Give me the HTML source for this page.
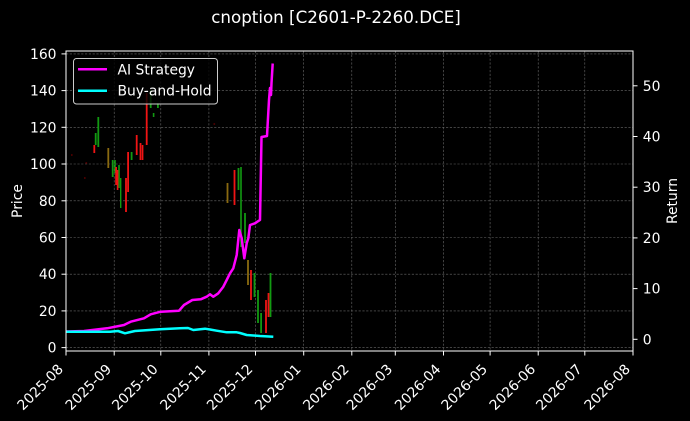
<!DOCTYPE html>
<html><head><meta charset="utf-8"><style>
html,body{margin:0;padding:0;background:#000;}
svg{display:block;font-family:"DejaVu Sans","Liberation Sans",sans-serif;}
</style></head><body>
<svg width="690" height="421" viewBox="0 0 690 421" xmlns="http://www.w3.org/2000/svg">
<rect x="0" y="0" width="690" height="421" fill="#000"/>
<text x="336" y="23" fill="#fff" font-size="16.7" text-anchor="middle">cnoption [C2601-P-2260.DCE]</text>
<!-- grid -->
<g stroke="#6a6a6a" stroke-width="0.6" stroke-dasharray="2.2,1.6" fill="none">
<line x1="114.2" y1="51" x2="114.2" y2="351"/><line x1="160.8" y1="51" x2="160.8" y2="351"/>
<line x1="208.9" y1="51" x2="208.9" y2="351"/><line x1="255.5" y1="51" x2="255.5" y2="351"/>
<line x1="303.7" y1="51" x2="303.7" y2="351"/><line x1="351.8" y1="51" x2="351.8" y2="351"/>
<line x1="395.3" y1="51" x2="395.3" y2="351"/><line x1="443.5" y1="51" x2="443.5" y2="351"/>
<line x1="490.1" y1="51" x2="490.1" y2="351"/><line x1="538.2" y1="51" x2="538.2" y2="351"/>
<line x1="584.8" y1="51" x2="584.8" y2="351"/>
<line x1="66" y1="347.6" x2="633" y2="347.6"/><line x1="66" y1="310.9" x2="633" y2="310.9"/>
<line x1="66" y1="274.2" x2="633" y2="274.2"/><line x1="66" y1="237.5" x2="633" y2="237.5"/>
<line x1="66" y1="200.8" x2="633" y2="200.8"/><line x1="66" y1="164.0" x2="633" y2="164.0"/>
<line x1="66" y1="127.3" x2="633" y2="127.3"/><line x1="66" y1="90.6" x2="633" y2="90.6"/>
<line x1="66" y1="53.9" x2="633" y2="53.9"/>
</g>
<!-- faint dots -->
<g fill="#c00" opacity="0.35">
<rect x="71" y="154" width="1.6" height="2"/><rect x="85.5" y="162" width="1.6" height="2"/>
<rect x="84" y="177" width="1.6" height="2"/><rect x="213.5" y="123" width="1.6" height="2"/>
</g>
<!-- candles green -->
<g fill="#129a12">
<rect x="94.8" y="133" width="1.8" height="12"/><rect x="97.4" y="117" width="1.8" height="30"/>
<rect x="111.8" y="160" width="1.8" height="17"/><rect x="114.2" y="160" width="1.6" height="13"/>
<rect x="118.2" y="165" width="1.6" height="23"/><rect x="120" y="178" width="1.4" height="30"/>
<rect x="130.7" y="152" width="1.8" height="8"/><rect x="149.8" y="90" width="1.8" height="18"/>
<rect x="152.8" y="113" width="1.6" height="4"/><rect x="157" y="103" width="1.8" height="5"/>
<rect x="237.6" y="168" width="1.8" height="22"/><rect x="240.2" y="167" width="1.6" height="80"/>
<rect x="244.1" y="213" width="1.8" height="30"/><rect x="253.6" y="273" width="1.8" height="24"/>
<rect x="257.1" y="290" width="1.8" height="33"/><rect x="260.2" y="313" width="1.8" height="20"/>
<rect x="269.6" y="273" width="1.8" height="44"/>
</g>
<!-- candles red -->
<g fill="#f01414">
<rect x="93.4" y="145" width="1.8" height="8"/><rect x="115.2" y="167" width="1.8" height="18"/>
<rect x="116.8" y="170" width="1.6" height="20"/><rect x="125.1" y="178" width="1.8" height="34"/>
<rect x="127.2" y="152" width="1.8" height="40"/><rect x="135.8" y="135" width="1.8" height="20"/>
<rect x="139.6" y="143" width="1.8" height="17"/><rect x="141.8" y="145" width="1.6" height="15"/>
<rect x="145.8" y="93" width="1.8" height="52"/>
<rect x="233.6" y="170" width="1.8" height="35"/><rect x="250.1" y="270" width="1.8" height="30"/>
<rect x="265.1" y="300" width="1.8" height="33"/><rect x="267.6" y="293" width="1.8" height="24"/>
</g>
<!-- olive -->
<g fill="#8a6a10">
<rect x="107.4" y="148" width="1.8" height="20"/><rect x="226.6" y="183" width="1.8" height="20"/>
<rect x="247.1" y="260" width="1.8" height="25"/>
</g>
<!-- lines -->
<polyline fill="none" stroke="#ff00ff" stroke-width="2.5" stroke-linejoin="round" points="66,331.5 84,331 107,328.3 124,325 130.7,321.7 144,318.3 150.7,314.3 160.7,311.7 179,310.7 184,305 192.3,300 200.7,299.3 206.7,296.7 210,294.3 213.3,296.7 218.3,293.3 223.3,286.7 226.7,280 230,273.3 233.3,268.3 236.7,255 239.3,230 241.7,238.3 244.3,258.3 246.7,243.3 248.3,238.3 250,225 255,223.3 257.3,221.7 260,220 261.5,137 267,136 269,100 270,88 271,95 271.5,83 272.7,63.5"/>
<polyline fill="none" stroke="#00ffff" stroke-width="2.5" stroke-linejoin="round" points="66,331.7 110,331.7 118,331 125,333.3 135,331 160,329.3 180,328.3 188,328 193.3,330 205,328.7 210,329.5 216.7,330.7 226.7,332.3 236.7,332.3 240,333 246.7,335 260,336 273.3,336.7"/>
<!-- spines -->
<rect x="66" y="51" width="567" height="300" fill="none" stroke="#fff" stroke-width="1"/>
<!-- ticks -->
<g stroke="#fff" stroke-width="1">
<line x1="61.5" y1="347.6" x2="66" y2="347.6"/><line x1="61.5" y1="310.9" x2="66" y2="310.9"/>
<line x1="61.5" y1="274.2" x2="66" y2="274.2"/><line x1="61.5" y1="237.5" x2="66" y2="237.5"/>
<line x1="61.5" y1="200.8" x2="66" y2="200.8"/><line x1="61.5" y1="164.0" x2="66" y2="164.0"/>
<line x1="61.5" y1="127.3" x2="66" y2="127.3"/><line x1="61.5" y1="90.6" x2="66" y2="90.6"/>
<line x1="61.5" y1="53.9" x2="66" y2="53.9"/>
<line x1="633" y1="339.3" x2="637.5" y2="339.3"/><line x1="633" y1="288.6" x2="637.5" y2="288.6"/>
<line x1="633" y1="237.9" x2="637.5" y2="237.9"/><line x1="633" y1="187.2" x2="637.5" y2="187.2"/>
<line x1="633" y1="136.5" x2="637.5" y2="136.5"/><line x1="633" y1="85.8" x2="637.5" y2="85.8"/>
<line x1="66" y1="351" x2="66" y2="355.5"/><line x1="114.2" y1="351" x2="114.2" y2="355.5"/>
<line x1="160.8" y1="351" x2="160.8" y2="355.5"/><line x1="208.9" y1="351" x2="208.9" y2="355.5"/>
<line x1="255.5" y1="351" x2="255.5" y2="355.5"/><line x1="303.7" y1="351" x2="303.7" y2="355.5"/>
<line x1="351.8" y1="351" x2="351.8" y2="355.5"/><line x1="395.3" y1="351" x2="395.3" y2="355.5"/>
<line x1="443.5" y1="351" x2="443.5" y2="355.5"/><line x1="490.1" y1="351" x2="490.1" y2="355.5"/>
<line x1="538.2" y1="351" x2="538.2" y2="355.5"/><line x1="584.8" y1="351" x2="584.8" y2="355.5"/>
<line x1="633" y1="351" x2="633" y2="355.5"/>
</g>
<g fill="#fff" font-size="13.9" text-anchor="end">
<text x="56.5" y="352.6">0</text><text x="56.5" y="315.9">20</text><text x="56.5" y="279.2">40</text>
<text x="56.5" y="242.5">60</text><text x="56.5" y="205.8">80</text><text x="56.5" y="169">100</text>
<text x="56.5" y="132.3">120</text><text x="56.5" y="95.6">140</text><text x="56.5" y="58.9">160</text>
</g>
<g fill="#fff" font-size="13.9">
<text x="642.8" y="344.3">0</text><text x="642.8" y="293.6">10</text><text x="642.8" y="242.9">20</text>
<text x="642.8" y="192.2">30</text><text x="642.8" y="141.5">40</text><text x="642.8" y="90.8">50</text>
</g>
<g fill="#fff" font-size="13.9" text-anchor="end">
<text transform="translate(64,370) rotate(-45)">2025-08</text>
<text transform="translate(112.2,370) rotate(-45)">2025-09</text>
<text transform="translate(158.8,370) rotate(-45)">2025-10</text>
<text transform="translate(206.9,370) rotate(-45)">2025-11</text>
<text transform="translate(253.5,370) rotate(-45)">2025-12</text>
<text transform="translate(301.7,370) rotate(-45)">2026-01</text>
<text transform="translate(349.8,370) rotate(-45)">2026-02</text>
<text transform="translate(393.3,370) rotate(-45)">2026-03</text>
<text transform="translate(441.5,370) rotate(-45)">2026-04</text>
<text transform="translate(488.1,370) rotate(-45)">2026-05</text>
<text transform="translate(536.2,370) rotate(-45)">2026-06</text>
<text transform="translate(582.8,370) rotate(-45)">2026-07</text>
<text transform="translate(631,370) rotate(-45)">2026-08</text>
</g>
<text transform="translate(22,201) rotate(-90)" fill="#fff" font-size="13.9" text-anchor="middle">Price</text>
<text transform="translate(677,201) rotate(-90)" fill="#fff" font-size="13.9" text-anchor="middle">Return</text>
<!-- legend -->
<rect x="73.5" y="58.5" width="144" height="45.5" rx="3" ry="3" fill="#000" fill-opacity="0.8" stroke="#cccccc" stroke-width="1"/>
<line x1="78" y1="69.3" x2="107" y2="69.3" stroke="#ff00ff" stroke-width="2.5"/>
<line x1="78" y1="90.7" x2="107" y2="90.7" stroke="#00ffff" stroke-width="2.5"/>
<text x="117.5" y="74.3" fill="#fff" font-size="13.9">AI Strategy</text>
<text x="117.5" y="95.7" fill="#fff" font-size="13.9">Buy-and-Hold</text>
</svg>
</body></html>
